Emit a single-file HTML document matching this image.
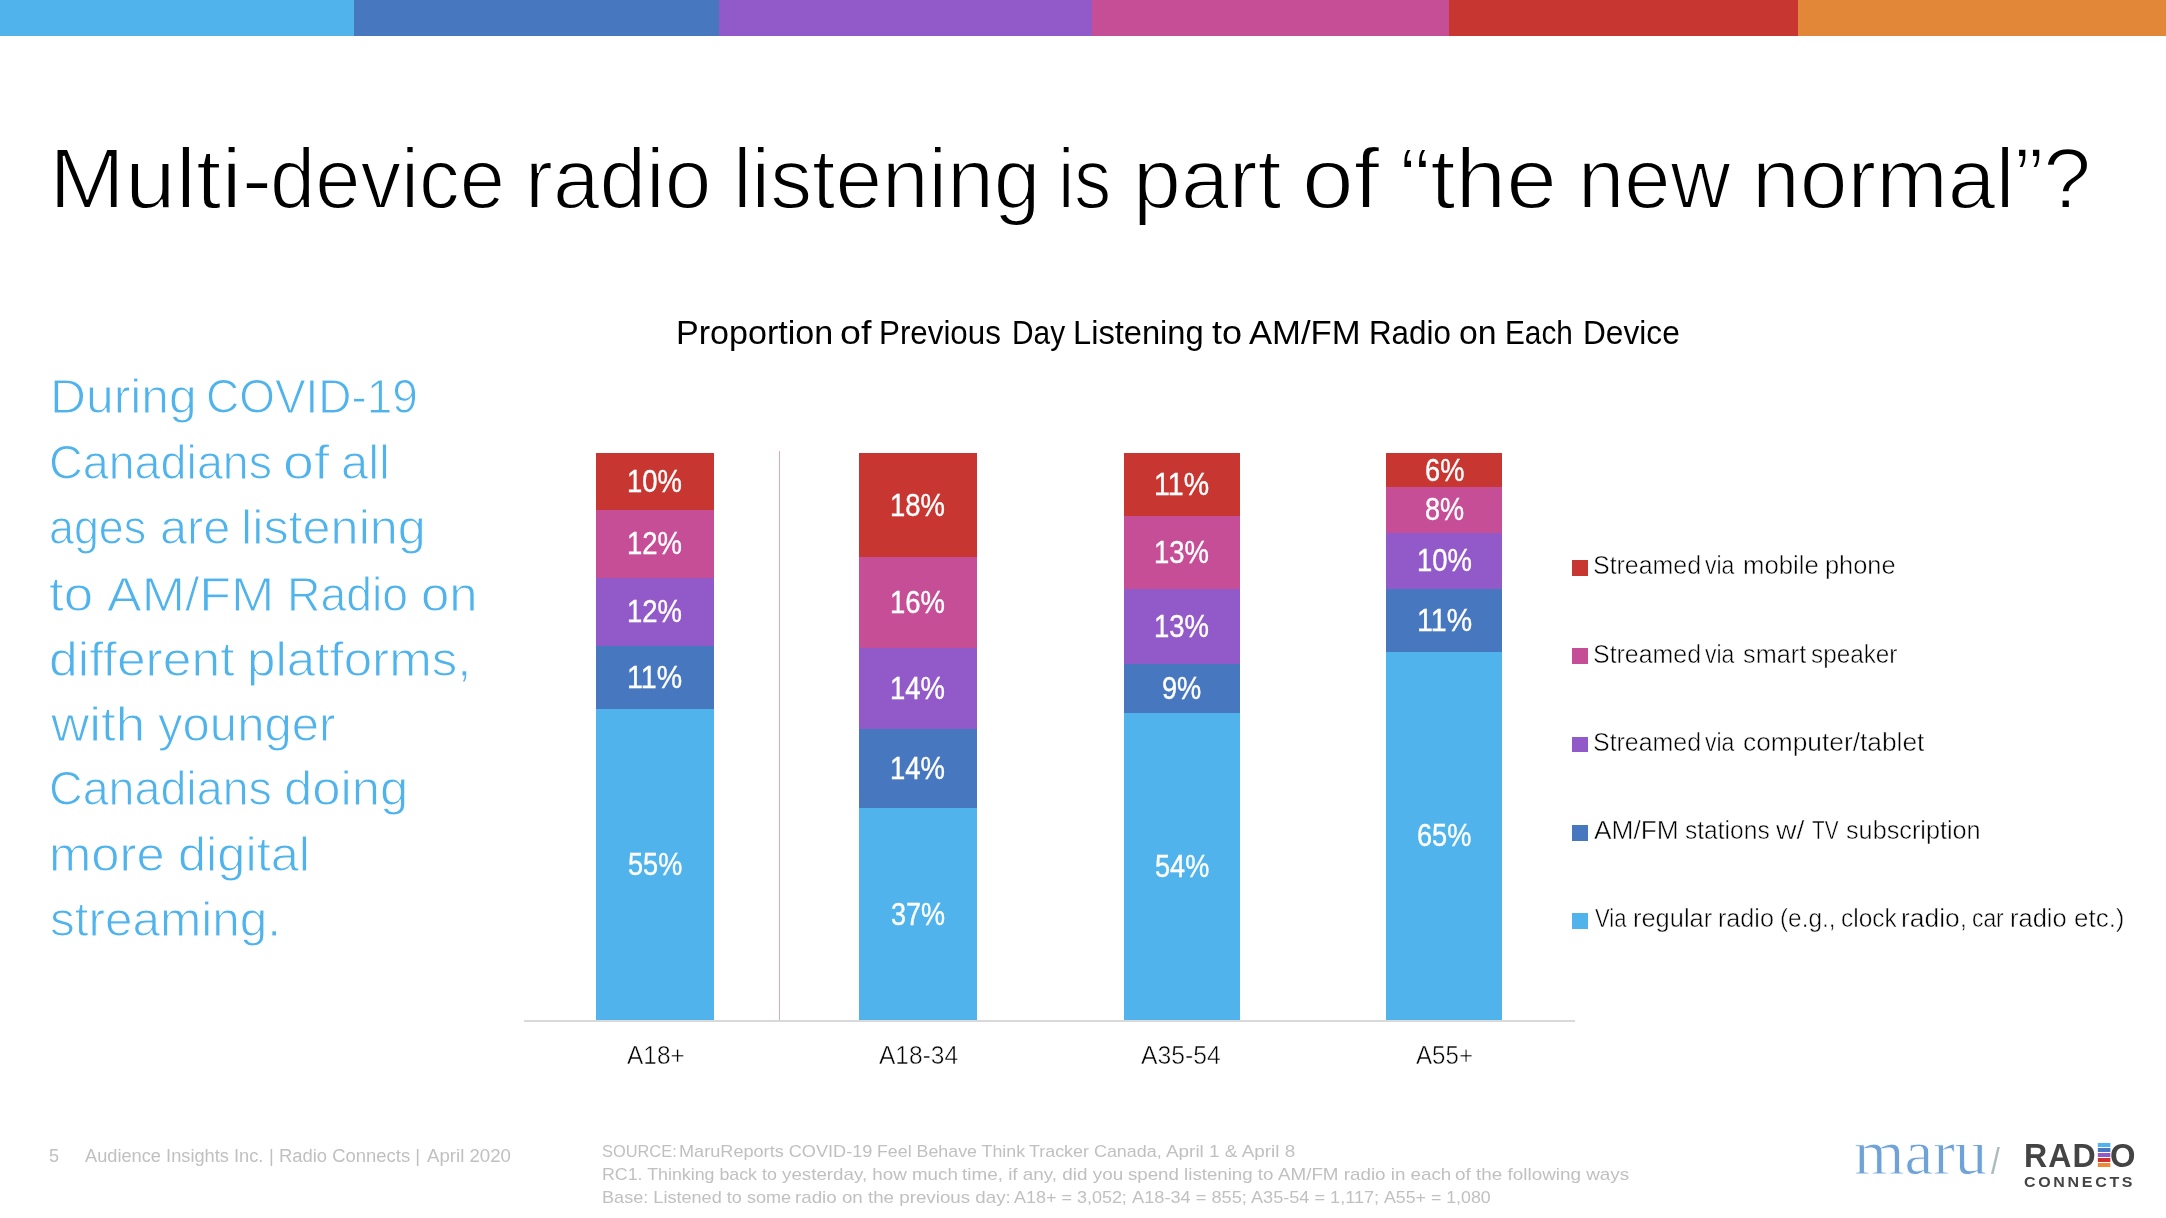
<!DOCTYPE html>
<html lang="en"><head><meta charset="utf-8"><title>Multi-device radio listening is part of the new normal?</title>
<style>
html,body{margin:0;padding:0;background:#fff;}
body{width:2166px;height:1218px;position:relative;font-family:"Liberation Sans", sans-serif;}
.t{position:absolute;white-space:nowrap;line-height:1;transform-origin:0 0;}
.r{position:absolute;display:block;}
</style></head><body>
<div class="topbar"><i class="r" style="left:0px;top:0px;width:354px;height:36px;background:#50B3EC"></i><i class="r" style="left:354px;top:0px;width:365px;height:36px;background:#4777BE"></i><i class="r" style="left:719px;top:0px;width:373px;height:36px;background:#9259C9"></i><i class="r" style="left:1092px;top:0px;width:357px;height:36px;background:#C64E96"></i><i class="r" style="left:1449px;top:0px;width:349px;height:36px;background:#C83632"></i><i class="r" style="left:1798px;top:0px;width:368px;height:36px;background:#E28738"></i></div>
<div class="title"><span class="t" style='left:48.50px;top:135.91px;font-size:85.25px;color:#000;transform:scaleX(1.0710);-webkit-text-stroke:1.8px #fff;'>Multi-</span><span class="t" style='left:269.97px;top:135.91px;font-size:85.25px;color:#000;transform:scaleX(0.9531);-webkit-text-stroke:1.8px #fff;'>device</span> <span class="t" style='left:525.31px;top:135.91px;font-size:85.25px;color:#000;transform:scaleX(0.9829);-webkit-text-stroke:1.8px #fff;'>radio</span> <span class="t" style='left:732.65px;top:135.91px;font-size:85.25px;color:#000;transform:scaleX(0.9826);-webkit-text-stroke:1.8px #fff;'>listening</span> <span class="t" style='left:1058.17px;top:135.91px;font-size:85.25px;color:#000;transform:scaleX(0.8638);-webkit-text-stroke:1.8px #fff;'>is</span> <span class="t" style='left:1132.69px;top:135.91px;font-size:85.25px;color:#000;transform:scaleX(1.0109);-webkit-text-stroke:1.8px #fff;'>part</span> <span class="t" style='left:1302.08px;top:135.91px;font-size:85.25px;color:#000;transform:scaleX(1.0899);-webkit-text-stroke:1.8px #fff;'>of</span> <span class="t" style='left:1400.14px;top:135.91px;font-size:85.25px;color:#000;transform:scaleX(1.0680);-webkit-text-stroke:1.8px #fff;'>“the</span> <span class="t" style='left:1577.51px;top:135.91px;font-size:85.25px;color:#000;transform:scaleX(0.9759);-webkit-text-stroke:1.8px #fff;'>new</span> <span class="t" style='left:1752.42px;top:135.91px;font-size:85.25px;color:#000;transform:scaleX(1.0080);-webkit-text-stroke:1.8px #fff;'>normal”?</span></div>
<div class="lead"> <span class="t" style='left:49.52px;top:372.88px;font-size:47.25px;color:#50B3EC;transform:scaleX(1.0535);-webkit-text-stroke:1px #fff;'>During</span> <span class="t" style='left:206.43px;top:372.88px;font-size:47.25px;color:#50B3EC;transform:scaleX(0.9722);-webkit-text-stroke:1px #fff;'>COVID-19</span> <span class="t" style='left:48.89px;top:438.88px;font-size:47.25px;color:#50B3EC;transform:scaleX(0.9878);-webkit-text-stroke:1px #fff;'>Canadians</span> <span class="t" style='left:283.05px;top:438.88px;font-size:47.25px;color:#50B3EC;transform:scaleX(1.1750);-webkit-text-stroke:1px #fff;'>of</span> <span class="t" style='left:341.16px;top:438.88px;font-size:47.25px;color:#50B3EC;transform:scaleX(1.0351);-webkit-text-stroke:1px #fff;'>all</span> <span class="t" style='left:49.34px;top:503.88px;font-size:47.25px;color:#50B3EC;transform:scaleX(0.9488);-webkit-text-stroke:1px #fff;'>ages</span> <span class="t" style='left:159.57px;top:503.88px;font-size:47.25px;color:#50B3EC;transform:scaleX(1.0298);-webkit-text-stroke:1px #fff;'>are</span> <span class="t" style='left:240.97px;top:503.88px;font-size:47.25px;color:#50B3EC;transform:scaleX(1.0666);-webkit-text-stroke:1px #fff;'>listening</span> <span class="t" style='left:49.39px;top:570.88px;font-size:47.25px;color:#50B3EC;transform:scaleX(1.1200);-webkit-text-stroke:1px #fff;'>to</span> <span class="t" style='left:107.36px;top:570.88px;font-size:47.25px;color:#50B3EC;transform:scaleX(1.0992);-webkit-text-stroke:1px #fff;'>AM/FM</span> <span class="t" style='left:286.60px;top:570.88px;font-size:47.25px;color:#50B3EC;transform:scaleX(0.9802);-webkit-text-stroke:1px #fff;'>Radio</span> <span class="t" style='left:420.95px;top:570.88px;font-size:47.25px;color:#50B3EC;transform:scaleX(1.0770);-webkit-text-stroke:1px #fff;'>on</span> <span class="t" style='left:49.12px;top:635.88px;font-size:47.25px;color:#50B3EC;transform:scaleX(1.0918);-webkit-text-stroke:1px #fff;'>different</span> <span class="t" style='left:247.46px;top:635.88px;font-size:47.25px;color:#50B3EC;transform:scaleX(1.0823);-webkit-text-stroke:1px #fff;'>platforms,</span> <span class="t" style='left:51.21px;top:700.88px;font-size:47.25px;color:#50B3EC;transform:scaleX(1.1229);-webkit-text-stroke:1px #fff;'>with</span> <span class="t" style='left:158.07px;top:700.88px;font-size:47.25px;color:#50B3EC;transform:scaleX(1.0394);-webkit-text-stroke:1px #fff;'>younger</span> <span class="t" style='left:48.90px;top:764.88px;font-size:47.25px;color:#50B3EC;transform:scaleX(0.9865);-webkit-text-stroke:1px #fff;'>Canadians</span> <span class="t" style='left:283.55px;top:764.88px;font-size:47.25px;color:#50B3EC;transform:scaleX(1.0757);-webkit-text-stroke:1px #fff;'>doing</span> <span class="t" style='left:48.97px;top:830.88px;font-size:47.25px;color:#50B3EC;transform:scaleX(1.0743);-webkit-text-stroke:1px #fff;'>more</span> <span class="t" style='left:177.56px;top:830.88px;font-size:47.25px;color:#50B3EC;transform:scaleX(1.0690);-webkit-text-stroke:1px #fff;'>digital</span> <span class="t" style='left:49.53px;top:895.88px;font-size:47.25px;color:#50B3EC;transform:scaleX(1.0474);-webkit-text-stroke:1px #fff;'>streaming.</span></div>
<div class="chart"><div class="charttitle"><span class="t" style='left:675.81px;top:317.18px;font-size:32.64px;color:#000;transform:scaleX(1.0442);'>Proportion</span> <span class="t" style='left:840.34px;top:317.18px;font-size:32.64px;color:#000;transform:scaleX(1.1537);'>of</span> <span class="t" style='left:879.33px;top:317.18px;font-size:32.64px;color:#000;transform:scaleX(0.9601);'>Previous</span> <span class="t" style='left:1011.65px;top:317.18px;font-size:32.64px;color:#000;transform:scaleX(0.9144);'>Day</span> <span class="t" style='left:1073.32px;top:317.18px;font-size:32.64px;color:#000;transform:scaleX(1.0006);'>Listening</span> <span class="t" style='left:1211.84px;top:317.18px;font-size:32.64px;color:#000;transform:scaleX(1.1035);'>to</span> <span class="t" style='left:1249.00px;top:317.18px;font-size:32.64px;color:#000;transform:scaleX(1.0615);'>AM/FM</span> <span class="t" style='left:1368.93px;top:317.18px;font-size:32.64px;color:#000;transform:scaleX(0.9602);'>Radio</span> <span class="t" style='left:1459.01px;top:317.18px;font-size:32.64px;color:#000;transform:scaleX(1.0353);'>on</span> <span class="t" style='left:1505.36px;top:317.18px;font-size:32.64px;color:#000;transform:scaleX(0.9123);'>Each</span> <span class="t" style='left:1582.51px;top:317.18px;font-size:32.64px;color:#000;transform:scaleX(0.9702);'>Device</span></div>
<i class="r" style="left:523.5px;top:1020px;width:1051.5px;height:2px;background:#D9D9D9"></i><i class="r" style="left:778.8px;top:450.8px;width:1.2px;height:569px;background:#E8A9AB"></i><div class="bar"><i class="r" style="left:596px;top:453.4px;width:118px;height:56.5px;background:#C83632"></i> <span class="t" style='left:627.49px;top:465.81px;font-size:31.56px;color:#fff;transform:scaleX(0.8714);-webkit-text-stroke:0.4px #fff;'>10%</span><i class="r" style="left:596px;top:509.9px;width:118px;height:67.9px;background:#C64E96"></i> <span class="t" style='left:627.49px;top:527.81px;font-size:31.56px;color:#fff;transform:scaleX(0.8714);-webkit-text-stroke:0.4px #fff;'>12%</span><i class="r" style="left:596px;top:577.8px;width:118px;height:68px;background:#9259C9"></i> <span class="t" style='left:627.49px;top:595.81px;font-size:31.56px;color:#fff;transform:scaleX(0.8714);-webkit-text-stroke:0.4px #fff;'>12%</span><i class="r" style="left:596px;top:645.8px;width:118px;height:63.1px;background:#4777BE"></i> <span class="t" style='left:627.41px;top:661.81px;font-size:31.56px;color:#fff;transform:scaleX(0.9055);-webkit-text-stroke:0.4px #fff;'>11%</span><i class="r" style="left:596px;top:708.9px;width:118px;height:311.1px;background:#50B3EC"></i> <span class="t" style='left:628.27px;top:848.81px;font-size:31.56px;color:#fff;transform:scaleX(0.8588);-webkit-text-stroke:0.4px #fff;'>55%</span> <span class="t" style='left:626.59px;top:1043.26px;font-size:25.48px;color:#000;transform:scaleX(0.9592);-webkit-text-stroke:0.5px #fff;'>A18+</span></div>
<div class="bar"><i class="r" style="left:859px;top:453.4px;width:117.6px;height:104px;background:#C83632"></i> <span class="t" style='left:890.29px;top:489.81px;font-size:31.56px;color:#fff;transform:scaleX(0.8714);-webkit-text-stroke:0.4px #fff;'>18%</span><i class="r" style="left:859px;top:557.4px;width:117.6px;height:90.6px;background:#C64E96"></i> <span class="t" style='left:890.29px;top:586.81px;font-size:31.56px;color:#fff;transform:scaleX(0.8714);-webkit-text-stroke:0.4px #fff;'>16%</span><i class="r" style="left:859px;top:648px;width:117.6px;height:81.3px;background:#9259C9"></i> <span class="t" style='left:890.29px;top:672.81px;font-size:31.56px;color:#fff;transform:scaleX(0.8714);-webkit-text-stroke:0.4px #fff;'>14%</span><i class="r" style="left:859px;top:729.3px;width:117.6px;height:79.1px;background:#4777BE"></i> <span class="t" style='left:890.29px;top:752.81px;font-size:31.56px;color:#fff;transform:scaleX(0.8714);-webkit-text-stroke:0.4px #fff;'>14%</span><i class="r" style="left:859px;top:808.4px;width:117.6px;height:211.6px;background:#50B3EC"></i> <span class="t" style='left:891.12px;top:898.81px;font-size:31.56px;color:#fff;transform:scaleX(0.8579);-webkit-text-stroke:0.4px #fff;'>37%</span> <span class="t" style='left:878.69px;top:1043.26px;font-size:25.48px;color:#000;transform:scaleX(0.9637);-webkit-text-stroke:0.5px #fff;'>A18-34</span></div>
<div class="bar"><i class="r" style="left:1123.9px;top:453.4px;width:115.7px;height:62.9px;background:#C83632"></i> <span class="t" style='left:1154.16px;top:468.81px;font-size:31.56px;color:#fff;transform:scaleX(0.9055);-webkit-text-stroke:0.4px #fff;'>11%</span><i class="r" style="left:1123.9px;top:516.3px;width:115.7px;height:72.9px;background:#C64E96"></i> <span class="t" style='left:1154.24px;top:536.81px;font-size:31.56px;color:#fff;transform:scaleX(0.8714);-webkit-text-stroke:0.4px #fff;'>13%</span><i class="r" style="left:1123.9px;top:589.2px;width:115.7px;height:74.8px;background:#9259C9"></i> <span class="t" style='left:1154.24px;top:610.81px;font-size:31.56px;color:#fff;transform:scaleX(0.8714);-webkit-text-stroke:0.4px #fff;'>13%</span><i class="r" style="left:1123.9px;top:664px;width:115.7px;height:49.2px;background:#4777BE"></i> <span class="t" style='left:1162.44px;top:672.81px;font-size:31.56px;color:#fff;transform:scaleX(0.8619);-webkit-text-stroke:0.4px #fff;'>9%</span><i class="r" style="left:1123.9px;top:713.2px;width:115.7px;height:306.8px;background:#50B3EC"></i> <span class="t" style='left:1155.02px;top:850.81px;font-size:31.56px;color:#fff;transform:scaleX(0.8588);-webkit-text-stroke:0.4px #fff;'>54%</span> <span class="t" style='left:1141.09px;top:1043.26px;font-size:25.48px;color:#000;transform:scaleX(0.9711);-webkit-text-stroke:0.5px #fff;'>A35-54</span></div>
<div class="bar"><i class="r" style="left:1386.3px;top:453.4px;width:115.7px;height:33.4px;background:#C83632"></i> <span class="t" style='left:1424.78px;top:454.81px;font-size:31.56px;color:#fff;transform:scaleX(0.8633);-webkit-text-stroke:0.4px #fff;'>6%</span><i class="r" style="left:1386.3px;top:486.8px;width:115.7px;height:46px;background:#C64E96"></i> <span class="t" style='left:1424.96px;top:493.81px;font-size:31.56px;color:#fff;transform:scaleX(0.8593);-webkit-text-stroke:0.4px #fff;'>8%</span><i class="r" style="left:1386.3px;top:532.8px;width:115.7px;height:56.1px;background:#9259C9"></i> <span class="t" style='left:1416.64px;top:544.81px;font-size:31.56px;color:#fff;transform:scaleX(0.8714);-webkit-text-stroke:0.4px #fff;'>10%</span><i class="r" style="left:1386.3px;top:588.9px;width:115.7px;height:62.8px;background:#4777BE"></i> <span class="t" style='left:1416.56px;top:604.81px;font-size:31.56px;color:#fff;transform:scaleX(0.9055);-webkit-text-stroke:0.4px #fff;'>11%</span><i class="r" style="left:1386.3px;top:651.7px;width:115.7px;height:368.3px;background:#50B3EC"></i> <span class="t" style='left:1417.34px;top:819.81px;font-size:31.56px;color:#fff;transform:scaleX(0.8601);-webkit-text-stroke:0.4px #fff;'>65%</span> <span class="t" style='left:1415.60px;top:1043.26px;font-size:25.48px;color:#000;transform:scaleX(0.9473);-webkit-text-stroke:0.5px #fff;'>A55+</span></div>
<div class="legend"><div class="legitem"><i class="r" style="left:1572px;top:560px;width:16px;height:15.8px;background:#C83632"></i><span class="t" style='left:1593.11px;top:553.26px;font-size:25.48px;color:#000;transform:scaleX(0.9790);-webkit-text-stroke:0.5px #fff;'>Streamed</span> <span class="t" style='left:1705.39px;top:553.26px;font-size:25.48px;color:#000;transform:scaleX(0.9019);-webkit-text-stroke:0.5px #fff;'>via</span> <span class="t" style='left:1743.31px;top:553.26px;font-size:25.48px;color:#000;transform:scaleX(1.0111);-webkit-text-stroke:0.5px #fff;'>mobile</span> <span class="t" style='left:1825.18px;top:553.26px;font-size:25.48px;color:#000;transform:scaleX(0.9963);-webkit-text-stroke:0.5px #fff;'>phone</span></div>
<div class="legitem"><i class="r" style="left:1572px;top:648.25px;width:16px;height:15.8px;background:#C64E96"></i><span class="t" style='left:1593.11px;top:642.26px;font-size:25.48px;color:#000;transform:scaleX(0.9790);-webkit-text-stroke:0.5px #fff;'>Streamed</span> <span class="t" style='left:1705.39px;top:642.26px;font-size:25.48px;color:#000;transform:scaleX(0.9019);-webkit-text-stroke:0.5px #fff;'>via</span> <span class="t" style='left:1743.35px;top:642.26px;font-size:25.48px;color:#000;transform:scaleX(0.9925);-webkit-text-stroke:0.5px #fff;'>smart</span> <span class="t" style='left:1811.49px;top:642.26px;font-size:25.48px;color:#000;transform:scaleX(0.9541);-webkit-text-stroke:0.5px #fff;'>speaker</span></div>
<div class="legitem"><i class="r" style="left:1572px;top:736.5px;width:16px;height:15.8px;background:#9259C9"></i><span class="t" style='left:1593.11px;top:730.26px;font-size:25.48px;color:#000;transform:scaleX(0.9790);-webkit-text-stroke:0.5px #fff;'>Streamed</span> <span class="t" style='left:1705.39px;top:730.26px;font-size:25.48px;color:#000;transform:scaleX(0.9019);-webkit-text-stroke:0.5px #fff;'>via</span> <span class="t" style='left:1742.76px;top:730.26px;font-size:25.48px;color:#000;transform:scaleX(1.0332);-webkit-text-stroke:0.5px #fff;'>computer/tablet</span></div>
<div class="legitem"><i class="r" style="left:1572px;top:824.75px;width:16px;height:15.8px;background:#4777BE"></i><span class="t" style='left:1594.07px;top:818.26px;font-size:25.48px;color:#000;transform:scaleX(1.0328);-webkit-text-stroke:0.5px #fff;'>AM/FM</span> <span class="t" style='left:1684.88px;top:818.26px;font-size:25.48px;color:#000;transform:scaleX(0.9650);-webkit-text-stroke:0.5px #fff;'>stations</span> <span class="t" style='left:1775.63px;top:818.26px;font-size:25.48px;color:#000;transform:scaleX(1.1175);-webkit-text-stroke:0.5px #fff;'>w/</span> <span class="t" style='left:1811.87px;top:818.26px;font-size:25.48px;color:#000;transform:scaleX(0.8135);-webkit-text-stroke:0.5px #fff;'>TV</span> <span class="t" style='left:1845.56px;top:818.26px;font-size:25.48px;color:#000;transform:scaleX(0.9905);-webkit-text-stroke:0.5px #fff;'>subscription</span></div>
<div class="legitem"><i class="r" style="left:1572px;top:913px;width:16px;height:15.8px;background:#50B3EC"></i><span class="t" style='left:1594.67px;top:906.26px;font-size:25.48px;color:#000;transform:scaleX(0.8665);-webkit-text-stroke:0.5px #fff;'>Via</span> <span class="t" style='left:1633.34px;top:906.26px;font-size:25.48px;color:#000;transform:scaleX(0.9989);-webkit-text-stroke:0.5px #fff;'>regular</span> <span class="t" style='left:1718.16px;top:906.26px;font-size:25.48px;color:#000;transform:scaleX(0.9868);-webkit-text-stroke:0.5px #fff;'>radio</span> <span class="t" style='left:1779.81px;top:906.26px;font-size:25.48px;color:#000;transform:scaleX(0.9566);-webkit-text-stroke:0.5px #fff;'>(e.g.,</span> <span class="t" style='left:1840.64px;top:906.26px;font-size:25.48px;color:#000;transform:scaleX(0.9593);-webkit-text-stroke:0.5px #fff;'>clock</span> <span class="t" style='left:1901.48px;top:906.26px;font-size:25.48px;color:#000;transform:scaleX(1.0366);-webkit-text-stroke:0.5px #fff;'>radio,</span> <span class="t" style='left:1972.02px;top:906.26px;font-size:25.48px;color:#000;transform:scaleX(0.8965);-webkit-text-stroke:0.5px #fff;'>car</span> <span class="t" style='left:2010.14px;top:906.26px;font-size:25.48px;color:#000;transform:scaleX(1.0017);-webkit-text-stroke:0.5px #fff;'>radio</span> <span class="t" style='left:2073.77px;top:906.26px;font-size:25.48px;color:#000;transform:scaleX(1.0193);-webkit-text-stroke:0.5px #fff;'>etc.)</span></div>
</div>
</div>
<div class="footer"><div class="pagenum"><span class="t" style='left:48.50px;top:1147.19px;font-size:18.61px;color:#C0C0C0;transform:scaleX(0.9695);'>5</span></div>
<div class="foot"> <span class="t" style='left:84.55px;top:1147.19px;font-size:18.61px;color:#C0C0C0;transform:scaleX(0.9794);'>Audience Insights Inc.</span> <span class="t" style='left:269.35px;top:1147.19px;font-size:18.61px;color:#C0C0C0;transform:scaleX(0.9914);'>| Radio Connects |</span> <span class="t" style='left:426.74px;top:1147.19px;font-size:18.61px;color:#C0C0C0;transform:scaleX(1.0019);'>April 2020</span></div>
<div class="src"> <span class="t" style='left:601.58px;top:1144.05px;font-size:16.95px;color:#C0C0C0;transform:scaleX(0.9680);'>SOURCE:</span> <span class="t" style='left:678.80px;top:1144.05px;font-size:16.95px;color:#C0C0C0;transform:scaleX(1.0700);'>MaruReports COVID-19</span> <span class="t" style='left:876.52px;top:1144.05px;font-size:16.95px;color:#C0C0C0;transform:scaleX(1.0510);'>Feel Behave Think</span> <span class="t" style='left:1028.89px;top:1144.05px;font-size:16.95px;color:#C0C0C0;transform:scaleX(1.0565);'>Tracker Canada,</span> <span class="t" style='left:1165.82px;top:1144.05px;font-size:16.95px;color:#C0C0C0;transform:scaleX(1.1158);'>April 1 &amp; April 8</span></div>
<div class="src"> <span class="t" style='left:602.12px;top:1167.05px;font-size:16.95px;color:#C0C0C0;transform:scaleX(1.0509);'>RC1. Thinking back to</span> <span class="t" style='left:781.70px;top:1167.05px;font-size:16.95px;color:#C0C0C0;transform:scaleX(1.1076);'>yesterday, how much</span> <span class="t" style='left:962.00px;top:1167.05px;font-size:16.95px;color:#C0C0C0;transform:scaleX(1.1143);'>time, if any, did you</span> <span class="t" style='left:1127.61px;top:1167.05px;font-size:16.95px;color:#C0C0C0;transform:scaleX(1.1031);'>spend listening to</span> <span class="t" style='left:1277.62px;top:1167.05px;font-size:16.95px;color:#C0C0C0;transform:scaleX(1.1091);'>AM/FM radio in each</span> <span class="t" style='left:1455.26px;top:1167.05px;font-size:16.95px;color:#C0C0C0;transform:scaleX(1.1149);'>of the following ways</span></div>
<div class="src"> <span class="t" style='left:601.80px;top:1190.05px;font-size:16.95px;color:#C0C0C0;transform:scaleX(1.0686);'>Base: Listened to some</span> <span class="t" style='left:794.81px;top:1190.05px;font-size:16.95px;color:#C0C0C0;transform:scaleX(1.1070);'>radio on the previous day:</span> <span class="t" style='left:1014.43px;top:1190.05px;font-size:16.95px;color:#C0C0C0;transform:scaleX(1.0605);'>A18+ = 3,052;</span> <span class="t" style='left:1131.53px;top:1190.05px;font-size:16.95px;color:#C0C0C0;transform:scaleX(1.0753);'>A18-34 = 855;</span> <span class="t" style='left:1251.13px;top:1190.05px;font-size:16.95px;color:#C0C0C0;transform:scaleX(1.0701);'>A35-54 = 1,117;</span> <span class="t" style='left:1384.34px;top:1190.05px;font-size:16.95px;color:#C0C0C0;transform:scaleX(1.0484);'>A55+ = 1,080</span></div>
<div class="logo"><span class="t" style='left:1854.23px;top:1121.62px;font-size:62.75px;color:#6FA3D8;transform:scaleX(1.0336);font-family:"Liberation Serif", serif;-webkit-text-stroke:0.8px #fff;'>maru</span><span class="t" style='left:1991.17px;top:1144.21px;font-size:36.57px;color:#AEBBBD;transform:scaleX(0.8671);'>/</span></div>
<div class="logo"><span class="t" style='left:2023.53px;top:1138.93px;font-size:33.14px;color:#444;transform:scaleX(0.9675);font-weight:700;letter-spacing:1.2px;'>RAD</span><span class="t" style='left:2091.63px;top:1138.06px;font-size:34.88px;color:transparent;transform:scaleX(2.4980);font-weight:700;background:linear-gradient(to bottom,#4CB5F0 5.14px,#4CB5F0 8.90px,#fff 8.90px,#fff 10.20px,#4777BE 10.20px,#4777BE 13.96px,#fff 13.96px,#fff 15.26px,#9259C9 15.26px,#9259C9 19.02px,#fff 19.02px,#fff 20.32px,#D03030 20.32px,#D03030 24.08px,#fff 24.08px,#fff 25.38px,#EE8A34 25.38px,#EE8A34 29.14px);-webkit-background-clip:text;background-clip:text;'>I</span><span class="t" style='left:2110.02px;top:1138.93px;font-size:33.14px;color:#444;transform:scaleX(0.9891);font-weight:700;'>O</span> <span class="t" style='left:2023.77px;top:1173.80px;font-size:15.41px;color:#444;transform:scaleX(1.0367);font-weight:700;letter-spacing:2.6px;'>CONNECTS</span></div>
</div>
</body></html>
